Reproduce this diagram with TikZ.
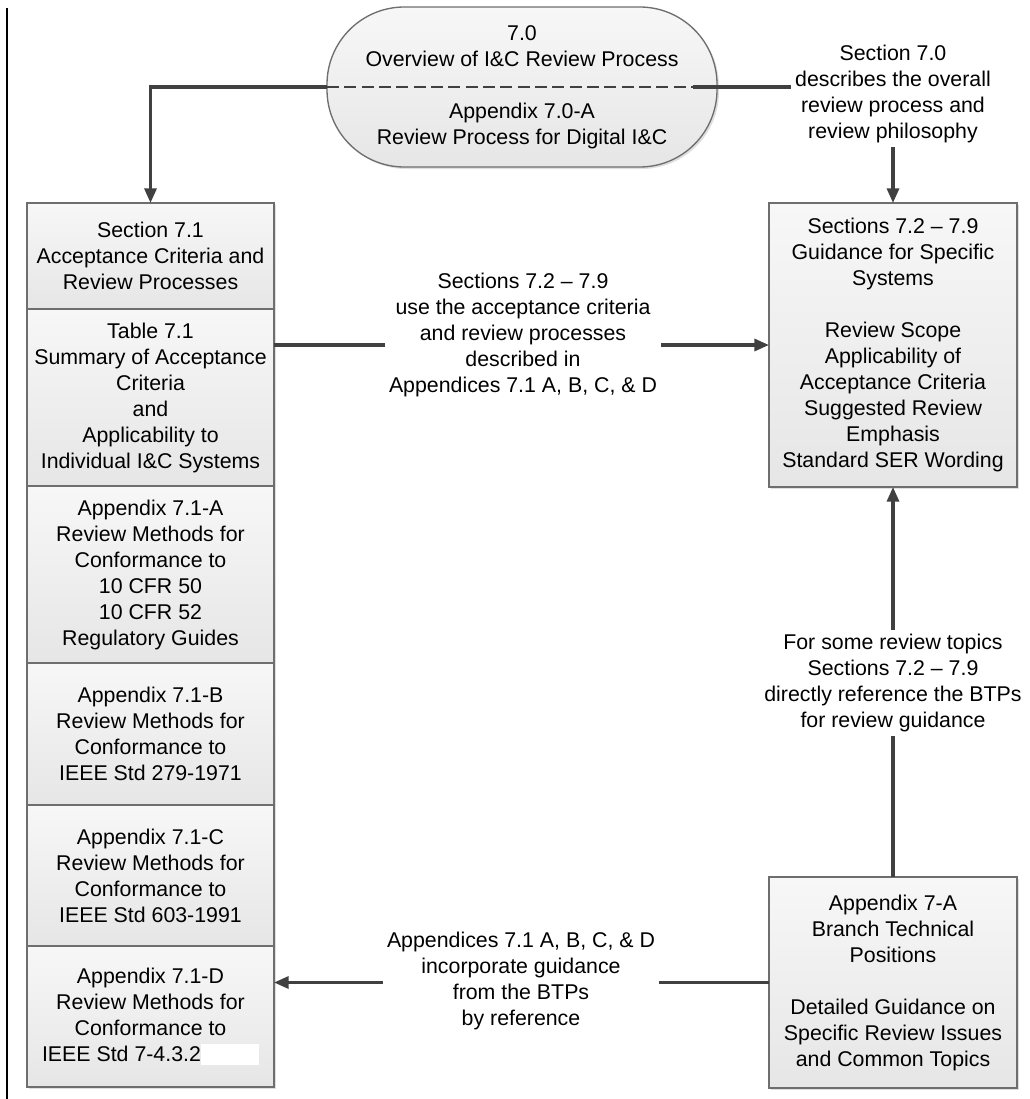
\documentclass[tikz,border=0pt]{standalone}
\usepackage{fontspec}
\setmainfont{Liberation Sans}
\usetikzlibrary{arrows.meta,shadows}

\definecolor{boxtop}{RGB}{247,247,247}
\definecolor{boxbot}{RGB}{230,230,230}
\definecolor{boxedge}{RGB}{110,110,110}
\definecolor{linegray}{RGB}{64,64,64}

\tikzset{every picture/.style={line width=0.75pt}}
\tikzset{
  blk/.style={draw=boxedge, line width=1pt, top color=boxtop, bottom color=boxbot,
    minimum width=185.25pt, inner sep=0pt, outer sep=0pt, align=center,
    drop shadow={shadow xshift=1.5pt, shadow yshift=-1.5pt, opacity=0.25}},
  conn/.style={draw=linegray, line width=2.4pt},
  tip/.style={-{Triangle[length=11pt,width=9pt]}},
  lbl/.style={fill=white, inner sep=3pt, align=center},
}

\begin{document}
\begin{tikzpicture}[x=0.75pt,y=0.75pt,yscale=-1,xscale=1,
    every node/.style={font=\fontsize{16}{19.5}\selectfont}]
        \useasboundingbox (0,0) rectangle (1030,1099);
        \draw [line width=1.5pt] (7,8) -- (7,1099) ;

        % overview
        \node [blk, rounded corners=58pt, minimum width=292.5pt, minimum height=120pt] (ovr) at (522,87)
            {7.0\\Overview of I\&C Review Process\\[19.5pt]Appendix 7.0-A\\Review Process for Digital I\&C};
        \draw [draw=linegray, line width=2pt, dash pattern=on 9pt off 4pt] (ovr.west) -- (ovr.east) ;

        % left column
        \node [blk, minimum height=79.5pt] (sec71) at (150.5,256)
            {Section 7.1\\Acceptance Criteria and\\Review Processes};
        \node [blk, minimum height=132.75pt] (tab71) at (150.5,397.5)
            {Table 7.1\\Summary of Acceptance\\Criteria\\and\\Applicability to\\Individual I\&C Systems};
        \node [blk, minimum height=132.75pt] (appA) at (150.5,574.5)
            {Appendix 7.1-A\\Review Methods for\\Conformance to\\10 CFR 50\\10 CFR 52\\Regulatory Guides};
        \node [blk, minimum height=106.5pt] (appB) at (150.5,734)
            {Appendix 7.1-B\\Review Methods for\\Conformance to\\IEEE Std 279-1971};
        \node [blk, minimum height=105.75pt] (appC) at (150.5,875.5)
            {Appendix 7.1-C\\Review Methods for\\Conformance to\\IEEE Std 603-1991};
        \node [blk, minimum height=105.75pt] (appD) at (150.5,1016.5)
            {Appendix 7.1-D\\Review Methods for\\Conformance to\\IEEE Std 7-4.3.2\textcolor{white}{\rule[-3pt]{43.5pt}{15.75pt}}};

        % right column
        \node [blk, minimum width=186pt, minimum height=213pt] (sys) at (893,345)
            {Sections 7.2 -- 7.9\\Guidance for Specific\\Systems\\[19.5pt]Review Scope\\Applicability of\\Acceptance Criteria\\Suggested Review\\Emphasis\\Standard SER Wording};
        \node [blk, minimum width=186pt, minimum height=158.25pt] (btp) at (893,982.5)
            {Appendix 7-A\\Branch Technical\\Positions\\[19.5pt]Detailed Guidance on\\Specific Review Issues\\and Common Topics};

        % connectors
        \draw [conn, tip] (ovr.west) -| (sec71.north) ;
        \draw [conn, tip] ([xshift=-18pt]ovr.east) -| (sys.north) ;
        \draw [conn, tip] (sys.west -| tab71.east) -- (sys.west) ;
        \draw [conn, tip] (btp.north) -- (sys.south) ;
        \draw [conn, tip] (btp.west) -- (btp.west -| appD.east) ;

        % labels
        \node [lbl] (l70) at (893,94) {Section 7.0\\describes the overall\\review process and\\review philosophy};
        \node [lbl] (luse) at (523,335) {Sections 7.2 -- 7.9\\use the acceptance criteria\\and review processes\\described in\\Appendices 7.1 A, B, C, \& D};
        \node [lbl] (ldir) at (893,683) {For some review topics\\Sections 7.2 -- 7.9\\directly reference the BTPs\\for review guidance};
        \node [lbl] (linc) at (521,981) {Appendices 7.1 A, B, C, \& D\\incorporate guidance\\from the BTPs\\by reference};
    \end{tikzpicture}
\end{document}
